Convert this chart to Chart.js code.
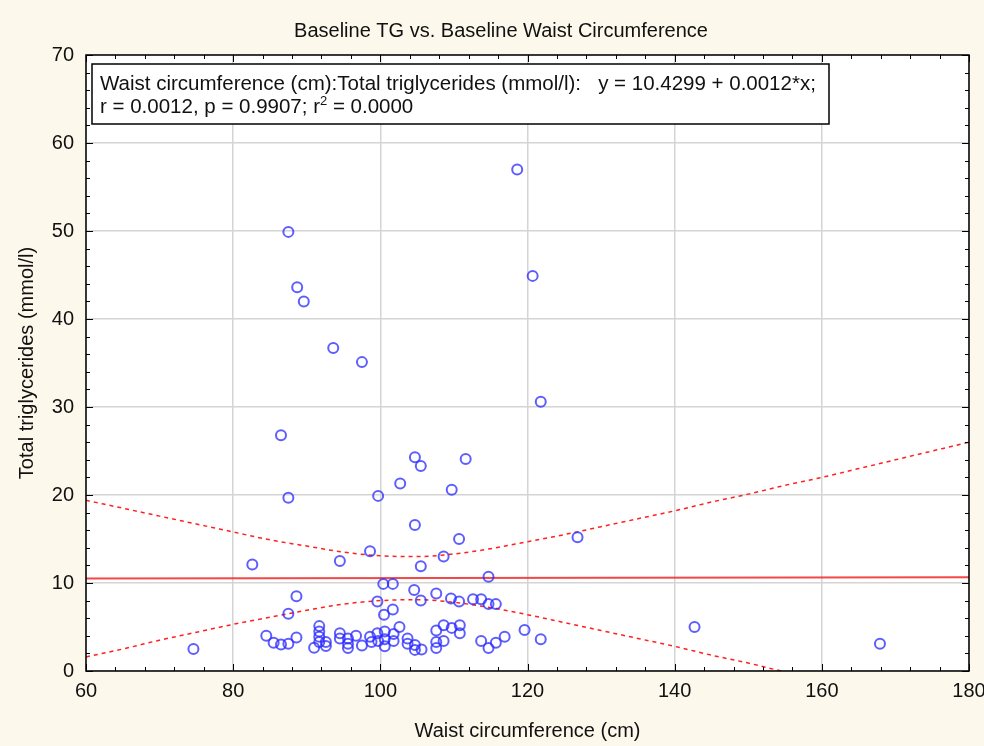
<!DOCTYPE html>
<html>
<head>
<meta charset="utf-8">
<title>Baseline TG vs. Baseline Waist Circumference</title>
<script src="https://cdn.jsdelivr.net/npm/chart.js@4.4.1/dist/chart.umd.min.js"></script>
<style>
  html, body { margin: 0; padding: 0; background: #fdf8ec; }
</style>
</head>
<body>
<canvas id="tgChart" width="984" height="746"></canvas>
<script>
// --- data ---
const waistCm = [
  118.6, 87.5, 88.7, 89.6, 120.7, 93.6, 97.5, 121.8, 86.5, 104.7, 105.5, 111.6, 102.7,
  109.7, 87.5, 99.7, 104.7, 110.7, 126.8, 82.6, 94.5, 98.6, 105.5, 108.6, 114.7,
  100.4, 101.7, 104.6, 107.6, 88.6, 105.5, 99.6, 109.6, 110.7, 112.6, 113.7, 114.7,
  115.7, 87.5, 100.5, 101.7, 142.7,
  84.5, 85.5, 86.5, 87.5, 88.6, 91.7, 91.7, 91.7, 91.7, 91.0, 92.6, 92.6,
  94.5, 94.5, 95.6, 95.6, 95.6, 96.7, 97.5, 98.6, 98.8, 99.6, 99.7, 100.6, 100.6, 100.6,
  101.8, 101.8, 102.6, 103.7, 103.7, 104.7, 104.7, 105.6,
  107.6, 107.6, 107.6, 108.6, 108.6, 109.7, 110.8, 110.8, 113.7, 114.7, 115.7, 116.9,
  119.6, 121.8, 167.9, 74.6
];
const triglycerides = [
  57.0, 49.9, 43.6, 42.0, 44.9, 36.7, 35.1, 30.6, 26.8, 24.3, 23.3, 24.1, 21.3,
  20.6, 19.7, 19.9, 16.6, 15.0, 15.2, 12.1, 12.5, 13.6, 11.9, 13.0, 10.7,
  9.9, 9.9, 9.2, 8.8, 8.5, 8.0, 7.9, 8.25, 7.9, 8.15, 8.15, 7.6,
  7.6, 6.5, 6.4, 7.0, 5.0,
  4.0, 3.2, 3.0, 3.1, 3.8, 5.1, 4.5, 3.9, 3.3, 2.65, 3.3, 2.85,
  4.3, 3.7, 3.7, 3.1, 2.6, 4.0, 2.9, 3.9, 3.3, 4.3, 3.4, 4.5, 3.6, 2.8,
  4.2, 3.4, 5.0, 3.7, 3.1, 2.95, 2.4, 2.45,
  4.6, 3.3, 2.6, 5.2, 3.4, 4.9, 5.2, 4.3, 3.4, 2.6, 3.2, 3.9,
  4.65, 3.6, 3.1, 2.5
];

// regression y = a + b*x
const fitIntercept = 10.4299;
const fitSlope = 0.0012;
const fitX = [60, 180];

// 95% confidence band
const bandX = [60, 65, 70, 75, 80, 85, 90, 95, 100, 105, 110, 115, 120,
  125, 130, 135, 140, 145, 150, 155, 160, 165, 170, 175, 180];
const bandUpper = [19.4, 18.5, 17.6, 16.7, 15.8, 14.9, 14.2, 13.5, 13.1, 13.0, 13.3, 13.9, 14.7,
  15.5, 16.4, 17.3, 18.2, 19.2, 20.1, 21.1, 22.0, 23.0, 24.0, 25.0, 26.0];
const bandLower = [1.6, 2.5, 3.5, 4.4, 5.3, 6.1, 6.9, 7.6, 8.0, 8.1, 7.8, 7.2, 6.4,
  5.5, 4.6, 3.7, 2.8, 1.8, 0.9, -0.1, -1.0, -2.0, -2.9, -3.9, -4.8];

const xTicks = [60, 80, 100, 120, 140, 160, 180];
const yTicks = [0, 10, 20, 30, 40, 50, 60, 70];

const titleText = 'Baseline TG vs. Baseline Waist Circumference';
const xTitle = 'Waist circumference (cm)';
const yTitle = 'Total triglycerides (mmol/l)';
const fitLine1 = 'Waist circumference (cm):Total triglycerides (mmol/l):   y = '
  + fitIntercept.toFixed(4) + ' + ' + fitSlope.toFixed(4) + '*x;';
const fitLine2a = 'r = 0.0012, p = 0.9907; r';
const fitLine2b = ' = 0.0000';

const FONT = "'Liberation Sans', Arial, sans-serif";

const points = waistCm.map((x, i) => ({ x: x, y: triglycerides[i] }));
const fitPoints = fitX.map(x => ({ x: x, y: fitIntercept + fitSlope * x }));
const upperPoints = bandX.map((x, i) => ({ x: x, y: bandUpper[i] }));
const lowerPoints = bandX.map((x, i) => ({ x: x, y: bandLower[i] }));

// white plot area, frame, inner tick marks, title and the regression box
const decorations = {
  id: 'decorations',
  beforeDraw(chart) {
    const { ctx, chartArea: a } = chart;
    ctx.save();
    ctx.fillStyle = '#fff';
    ctx.fillRect(a.left, a.top, a.right - a.left, a.bottom - a.top);
    ctx.restore();
  },
  afterDraw(chart) {
    const { ctx, chartArea: a, scales: { x, y } } = chart;
    ctx.save();

    // ticks on all four sides, pointing inward
    ctx.strokeStyle = '#000';
    ctx.lineWidth = 1;
    ctx.beginPath();
    for (let v = 60; v <= 180; v += 4) {
      const px = Math.round(x.getPixelForValue(v)) + 0.5;
      const len = v % 20 === 0 ? 7 : 4;
      ctx.moveTo(px, a.bottom); ctx.lineTo(px, a.bottom - len);
      ctx.moveTo(px, a.top); ctx.lineTo(px, a.top + len);
    }
    for (let v = 0; v <= 70; v += 2) {
      const py = Math.round(y.getPixelForValue(v)) + 0.5;
      const len = v % 10 === 0 ? 7 : 4;
      ctx.moveTo(a.left, py); ctx.lineTo(a.left + len, py);
      ctx.moveTo(a.right, py); ctx.lineTo(a.right - len, py);
    }
    ctx.stroke();

    ctx.lineWidth = 1.5;
    ctx.strokeRect(a.left, a.top, a.right - a.left, a.bottom - a.top);

    // title
    ctx.fillStyle = '#111';
    ctx.font = '20px ' + FONT;
    ctx.textAlign = 'center';
    ctx.textBaseline = 'middle';
    ctx.fillText(titleText, 501, 31);

    // regression box
    const bx = a.left + 6, by = a.top + 9, bw = 737, bh = 60;
    ctx.fillStyle = '#fff';
    ctx.fillRect(bx, by, bw, bh);
    ctx.lineWidth = 1.5;
    ctx.strokeRect(bx, by, bw, bh);

    ctx.fillStyle = '#111';
    ctx.textAlign = 'left';
    ctx.font = '20.5px ' + FONT;
    ctx.fillText(fitLine1, bx + 8, by + 20);
    ctx.fillText(fitLine2a, bx + 8, by + 43);
    let tx = bx + 8 + ctx.measureText(fitLine2a).width;
    ctx.font = '13px ' + FONT;
    ctx.fillText('2', tx, by + 37);
    tx += ctx.measureText('2').width;
    ctx.font = '20.5px ' + FONT;
    ctx.fillText(fitLine2b, tx, by + 43);

    ctx.restore();
  }
};

new Chart(document.getElementById('tgChart'), {
  type: 'scatter',
  data: {
    datasets: [
      {
        label: 'Total triglycerides',
        data: points,
        pointStyle: 'circle',
        pointRadius: 5,
        pointHoverRadius: 5,
        pointBorderWidth: 2,
        borderColor: 'rgba(40, 40, 255, 0.75)',
        backgroundColor: 'rgba(0, 0, 0, 0)',
        order: 1
      },
      {
        type: 'line',
        label: 'Fit',
        data: fitPoints,
        borderColor: 'rgba(240, 40, 40, 0.85)',
        borderWidth: 2,
        pointRadius: 0,
        order: 2
      },
      {
        type: 'line',
        label: 'Upper 95%',
        data: upperPoints,
        borderColor: '#ff2020',
        borderWidth: 1.5,
        borderDash: [4, 4],
        cubicInterpolationMode: 'monotone',
        pointRadius: 0,
        order: 3
      },
      {
        type: 'line',
        label: 'Lower 95%',
        data: lowerPoints,
        borderColor: '#ff2020',
        borderWidth: 1.5,
        borderDash: [4, 4],
        cubicInterpolationMode: 'monotone',
        pointRadius: 0,
        order: 3
      }
    ]
  },
  options: {
    responsive: false,
    animation: false,
    events: [],
    layout: { padding: { top: 55, right: 15, left: 0, bottom: 0 }, autoPadding: false },
    plugins: {
      legend: { display: false },
      tooltip: { enabled: false }
    },
    scales: {
      x: {
        type: 'linear',
        min: 60,
        max: 180,
        afterBuildTicks: s => { s.ticks = xTicks.map(v => ({ value: v })); },
        afterFit: s => { s.height = 75; s.paddingLeft = 0; s.paddingRight = 0; },
        ticks: { color: '#111', font: { family: FONT, size: 20 }, padding: 8, maxRotation: 0 },
        grid: { color: '#d4d4d4', lineWidth: 1.5, drawTicks: false },
        border: { display: false },
        title: {
          display: true,
          text: xTitle,
          color: '#111',
          font: { family: FONT, size: 20 },
          padding: { top: 0, bottom: 3 }
        }
      },
      y: {
        min: 0,
        max: 70,
        afterBuildTicks: s => { s.ticks = yTicks.map(v => ({ value: v })); },
        afterFit: s => { s.width = 86; s.paddingTop = 0; s.paddingBottom = 0; },
        ticks: { color: '#111', font: { family: FONT, size: 20 }, padding: 12 },
        grid: { color: '#d4d4d4', lineWidth: 1.5, drawTicks: false },
        border: { display: false },
        title: {
          display: true,
          text: yTitle,
          color: '#111',
          font: { family: FONT, size: 20 },
          padding: { top: 15, bottom: 0 }
        }
      }
    }
  },
  plugins: [decorations]
});
</script>
</body>
</html>
